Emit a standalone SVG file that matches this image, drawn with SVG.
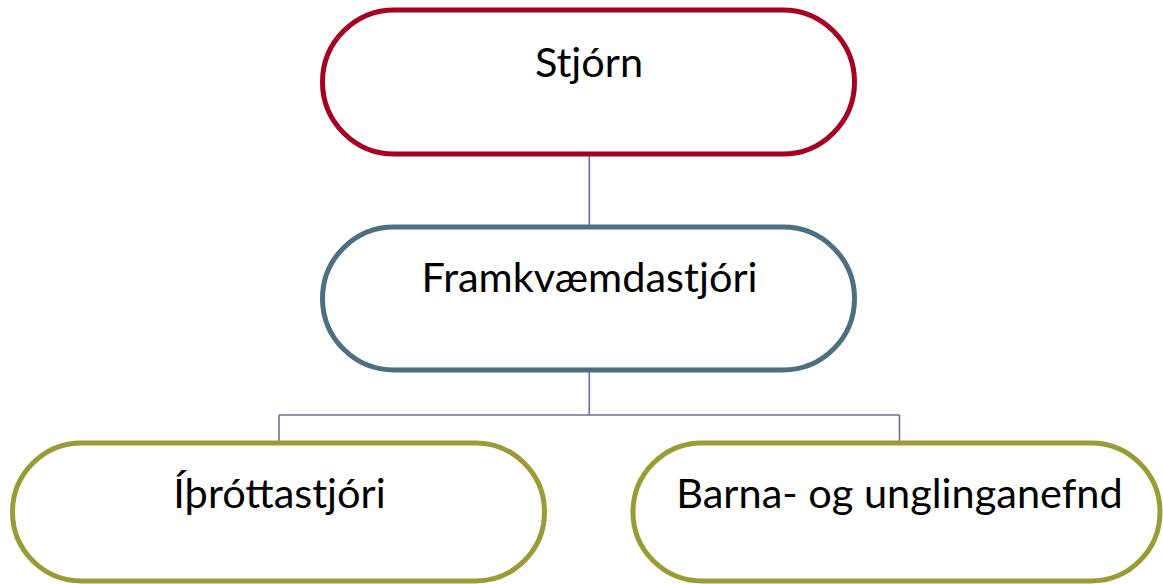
<svg xmlns="http://www.w3.org/2000/svg" width="1163" height="584" viewBox="0 0 1163 584">
<style>
.box{fill:#ffffff;stroke-width:5}
.lbl{font-family:Lato,"Open Sans","Liberation Sans",sans-serif;font-size:41.5px;fill:#000000;text-anchor:middle}
.con{fill:none;stroke:#6B6D9E;stroke-width:1.6}
</style>
<rect width="1163" height="584" fill="#ffffff"/>
<g id="connectors">
<path class="con" d="M589.3 154V227"/>
<path class="con" d="M589.3 370V415M279 415H899.5M279 415V443M899.5 415V443"/>
</g>
<g id="stjorn">
<rect class="box" x="322.5" y="10" width="532" height="144" rx="72" stroke="#A50021"/>
<text class="lbl" x="589" y="77">Stjórn</text>
</g>
<g id="framkvaemdastjori">
<rect class="box" x="322.5" y="227" width="532" height="143" rx="71.5" stroke="#4E6F82"/>
<text class="lbl" x="589.5" y="292">Framkvæmdastjóri</text>
</g>
<g id="ithrottastjori">
<rect class="box" x="12.5" y="443" width="532" height="138" rx="69" stroke="#9B9B36"/>
<text class="lbl" x="279.5" y="508">Íþróttastjóri</text>
</g>
<g id="barna">
<rect class="box" x="633" y="443" width="527" height="138" rx="69" stroke="#9B9B36"/>
<text class="lbl" x="899.5" y="508">Barna- og unglinganefnd</text>
</g>
</svg>
